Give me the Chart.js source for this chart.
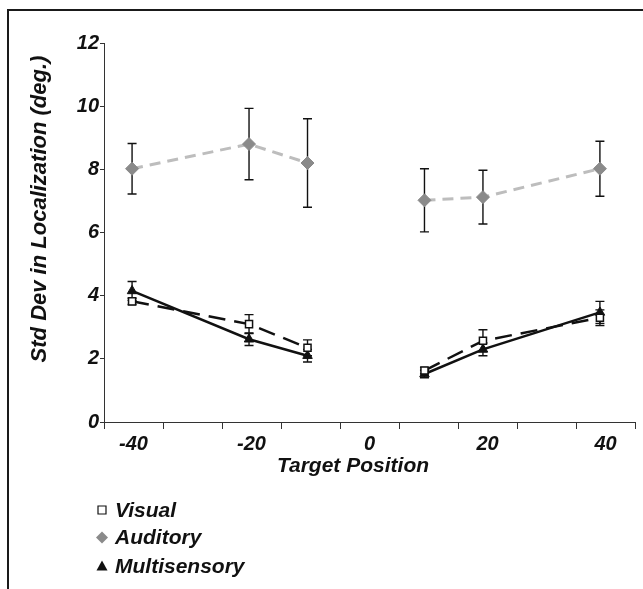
<!DOCTYPE html>
<html><head><meta charset="utf-8">
<script src="https://cdn.jsdelivr.net/npm/chart.js@4.4.0/dist/chart.umd.min.js"></script>
<style>
html,body{margin:0;padding:0;background:#fff;}
#wrap{position:relative;width:643px;height:589px;overflow:hidden;}
#frame{position:absolute;left:7px;top:9px;width:700px;height:700px;border-top:2px solid #1a1a1a;border-left:2px solid #1a1a1a;pointer-events:none;}
canvas{position:absolute;left:0;top:0;}
</style></head><body>
<div id="wrap"><canvas id="c" width="643" height="589"></canvas><div id="frame"></div></div>
<script>
// ---- data ----
const targetPositions = [-40, -20, -10, 10, 20, 40];
const visual        = [3.82, 3.10, 2.35, 1.63, 2.57, 3.30];
const visualErr     = [0.10, 0.30, 0.25, 0.10, 0.35, 0.25];
const auditory      = [8.02, 8.80, 8.20, 7.02, 7.12, 8.02];
const auditoryErr   = [0.80, 1.13, 1.40, 1.00, 0.85, 0.87];
const multisensory  = [4.15, 2.62, 2.10, 1.52, 2.30, 3.47];
const multiErr      = [0.30, 0.20, 0.20, 0.12, 0.20, 0.35];
const seriesNames   = ['Visual', 'Auditory', 'Multisensory'];
const xTickLabels   = ['-40', '-20', '0', '20', '40'];
const yTickValues   = [0, 2, 4, 6, 8, 10, 12];
const xTitle = 'Target Position';
const yTitle = 'Std Dev in Localization (deg.)';

// ---- axis geometry (Excel-style category spacing) ----
const xMin = -44.8, xMax = 46;
const xSteps = 18;
const FONT = '"Liberation Sans", Arial, sans-serif';

function gapSegment(color) {
  return ctx => (ctx.p0.parsed.x < 0 && ctx.p1.parsed.x > 0) ? 'rgba(0,0,0,0)' : color;
}
function pts(vals) { return targetPositions.map((x, i) => ({x: x, y: vals[i]})); }

const errs = [visualErr, auditoryErr, multiErr];

const errorBars = {
  id: 'errorBars',
  beforeDatasetsDraw(chart) {
    const {ctx, scales: {x, y}} = chart;
    ctx.save();
    ctx.strokeStyle = '#111';
    ctx.lineWidth = 1.4;
    chart.data.datasets.forEach((ds, di) => {
      ds.data.forEach((p, i) => {
        const e = errs[di][i];
        const px = x.getPixelForValue(p.x);
        const yt = y.getPixelForValue(p.y + e);
        const yb = y.getPixelForValue(p.y - e);
        ctx.beginPath();
        ctx.moveTo(px, yt); ctx.lineTo(px, yb);
        ctx.moveTo(px - 4.5, yt); ctx.lineTo(px + 4.5, yt);
        ctx.moveTo(px - 4.5, yb); ctx.lineTo(px + 4.5, yb);
        ctx.stroke();
      });
    });
    ctx.restore();
  }
};

const extras = {
  id: 'extras',
  afterDraw(chart) {
    const ctx = chart.ctx;
    // y axis title
    ctx.save();
    ctx.font = 'italic bold 22px ' + FONT;
    ctx.fillStyle = '#111';
    ctx.translate(40, 209);
    ctx.rotate(-Math.PI / 2);
    ctx.textAlign = 'center';
    ctx.textBaseline = 'middle';
    ctx.fillText(yTitle, 0, 0);
    ctx.restore();

    // x axis title
    ctx.save();
    ctx.font = 'italic bold 21px ' + FONT;
    ctx.fillStyle = '#111';
    ctx.textAlign = 'center';
    ctx.textBaseline = 'middle';
    ctx.fillText(xTitle, 353, 466);
    ctx.restore();

    // legend
    ctx.save();
    const rows = [510, 537.5, 566];
    ctx.font = 'italic bold 21px ' + FONT;
    ctx.textBaseline = 'middle';
    ctx.textAlign = 'left';
    chart.data.datasets.forEach((ds, i) => {
      const yy = rows[i], xx = 102;
      ctx.beginPath();
      if (i === 0) {
        ctx.fillStyle = '#fff'; ctx.strokeStyle = '#111'; ctx.lineWidth = 1.2;
        ctx.rect(xx - 4, yy - 4, 8, 8); ctx.fill(); ctx.stroke();
      } else if (i === 1) {
        ctx.fillStyle = '#8a8a8a';
        ctx.moveTo(xx, yy - 6); ctx.lineTo(xx + 6, yy); ctx.lineTo(xx, yy + 6); ctx.lineTo(xx - 6, yy); ctx.closePath(); ctx.fill();
      } else {
        ctx.fillStyle = '#111';
        ctx.moveTo(xx, yy - 5.5); ctx.lineTo(xx + 5.5, yy + 4.5); ctx.lineTo(xx - 5.5, yy + 4.5); ctx.closePath(); ctx.fill();
      }
      ctx.fillStyle = '#111';
      ctx.fillText(ds.label, 115, yy + 1);
    });
    ctx.restore();
  }
};

new Chart(document.getElementById('c'), {
  type: 'line',
  data: {
    datasets: [
      {
        label: seriesNames[0], data: pts(visual),
        borderColor: '#111', borderWidth: 2.5, borderDash: [17, 9],
        segment: {borderColor: gapSegment('#111')},
        pointStyle: 'rect', pointRadius: 5, pointBackgroundColor: '#fff',
        pointBorderColor: '#111', pointBorderWidth: 1.5
      },
      {
        label: seriesNames[1], data: pts(auditory),
        borderColor: '#bdbdbd', borderWidth: 3, borderDash: [11, 7],
        segment: {borderColor: gapSegment('#bdbdbd')},
        pointStyle: 'rectRot', pointRadius: 6.5, pointBackgroundColor: '#8a8a8a',
        pointBorderColor: '#8a8a8a', pointBorderWidth: 1
      },
      {
        label: seriesNames[2], data: pts(multisensory),
        borderColor: '#111', borderWidth: 2.5,
        segment: {borderColor: gapSegment('#111')},
        pointStyle: 'triangle', pointRadius: 5.5, pointBackgroundColor: '#111',
        pointBorderColor: '#111', pointBorderWidth: 1
      }
    ]
  },
  options: {
    responsive: false,
    animation: false,
    layout: {padding: {left: 0, right: 8, top: 43, bottom: 107}},
    plugins: {legend: {display: false}, tooltip: {enabled: false}},
    scales: {
      x: {
        type: 'linear', min: xMin, max: xMax,
        afterBuildTicks: s => {
          const st = (xMax - xMin) / xSteps;
          s.ticks = Array.from({length: xSteps + 1}, (_, i) => ({value: xMin + st * i}));
        },
        afterFit: s => { s.height = 60; },
        grid: {
          drawOnChartArea: false, drawTicks: true, tickLength: 7,
          tickColor: c => (c.index % 2 === 0 ? '#333' : 'rgba(0,0,0,0)'),
          color: c => (c.index % 2 === 0 ? '#333' : 'rgba(0,0,0,0)')
        },
        border: {display: true, color: '#333', width: 1},
        ticks: {
          autoSkip: false, maxRotation: 0, padding: 3, color: '#111',
          font: {family: FONT, size: 20, style: 'italic', weight: 'bold'},
          callback: (v, i) => (i % 4 === 1 ? xTickLabels[(i - 1) / 4] : '')
        },
        title: {display: false}
      },
      y: {
        min: 0, max: 12,
        afterBuildTicks: s => { s.ticks = yTickValues.map(v => ({value: v})); },
        afterFit: s => { s.width = 104; },
        grid: {drawOnChartArea: false, drawTicks: true, tickLength: 4, color: '#333'},
        border: {display: true, color: '#333', width: 1},
        ticks: {
          padding: 1, color: '#111',
          font: {family: FONT, size: 20, style: 'italic', weight: 'bold'}
        }
      }
    }
  },
  plugins: [errorBars, extras]
});
</script>
</body></html>
